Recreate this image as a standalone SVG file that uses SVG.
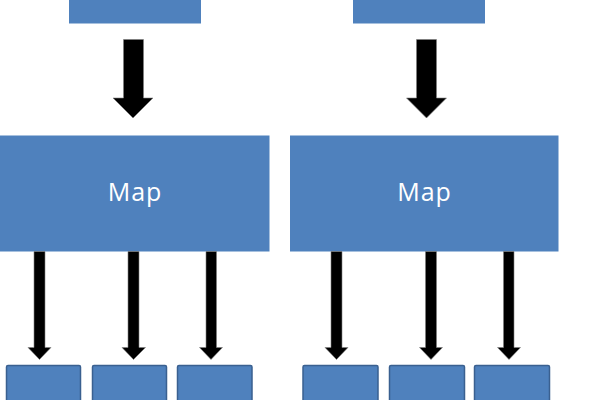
<svg xmlns="http://www.w3.org/2000/svg" width="600" height="400" viewBox="0 0 600 400">
<style>
.box{fill:#4F81BD}
.leaf{fill:#4F81BD;stroke:#3A6090;stroke-width:1.5}
.lbl{fill:#FFFFFF;font-family:"Open Sans","Liberation Sans",sans-serif;font-size:25px;letter-spacing:1px;text-anchor:middle}
.arr{fill:#000000;stroke:#7f7f7f;stroke-width:0.6}
</style>
<rect width="600" height="400" fill="#FFFFFF"/>
<g id="input1"><rect class="box" x="69" y="-2" width="132" height="25.5"/></g>
<g id="input2"><rect class="box" x="353" y="-2" width="132" height="25.5"/></g>
<g id="map1"><rect class="box" x="0" y="135.5" width="269.5" height="116"/><text class="lbl" x="135" y="200.5">Map</text></g>
<g id="map2"><rect class="box" x="290" y="135.5" width="268.5" height="116"/><text class="lbl" x="424.5" y="200.5">Map</text></g>
<g id="out1"><rect class="leaf" x="6.5" y="365.5" width="74" height="40" rx="1.5"/></g>
<g id="out2"><rect class="leaf" x="92.5" y="365.5" width="74" height="40" rx="1.5"/></g>
<g id="out3"><rect class="leaf" x="177.5" y="365.5" width="74.5" height="40" rx="1.5"/></g>
<g id="out4"><rect class="leaf" x="303" y="365.5" width="75" height="40" rx="1.5"/></g>
<g id="out5"><rect class="leaf" x="389.5" y="365.5" width="75" height="40" rx="1.5"/></g>
<g id="out6"><rect class="leaf" x="474.5" y="365.5" width="75" height="40" rx="1.5"/></g>
<g id="connectors">
<polygon class="arr" points="123.5,39.5 143.5,39.5 143.5,98 153,98 133,118 113,98 123.5,98"/>
<polygon class="arr" points="416.5,39.5 436.5,39.5 436.5,98 446.5,98 426.5,118 406.5,98 416.5,98"/>
<polygon class="arr" points="34,251.5 45,251.5 45,347.5 51,347.5 39.5,359.5 28,347.5 34,347.5"/>
<polygon class="arr" points="128,251.5 139,251.5 139,347.5 145.5,347.5 133.5,359.5 122,347.5 128,347.5"/>
<polygon class="arr" points="206,251.5 216.5,251.5 216.5,347.5 222.5,347.5 211,359.5 199.5,347.5 206,347.5"/>
<polygon class="arr" points="331,251.5 342,251.5 342,347.5 348,347.5 336.5,359.5 325,347.5 331,347.5"/>
<polygon class="arr" points="425.5,251.5 436.5,251.5 436.5,347.5 442.5,347.5 431,359.5 419.5,347.5 425.5,347.5"/>
<polygon class="arr" points="503.5,251.5 514,251.5 514,347.5 520.5,347.5 509,359.5 497.5,347.5 503.5,347.5"/>
</g>
</svg>
